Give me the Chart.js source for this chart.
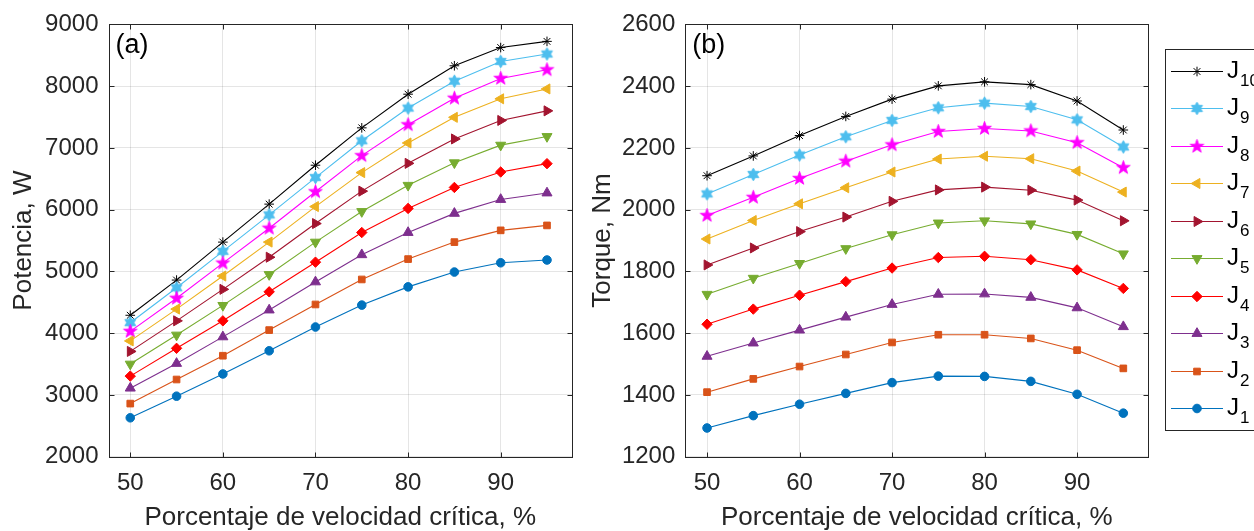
<!DOCTYPE html>
<html>
<head>
<meta charset="utf-8">
<script src="https://cdn.jsdelivr.net/npm/chart.js@4"></script>
<style>
  html, body { margin: 0; padding: 0; background: #fff; overflow: hidden; }
  #wrapA { position: absolute; left: 0; top: 0; width: 580px; height: 531px; }
  #wrapB { position: absolute; left: 580px; top: 0; width: 674px; height: 531px; }
</style>
</head>
<body>
<div id="wrapA"><canvas id="potChart" width="580" height="531"></canvas></div>
<div id="wrapB"><canvas id="torChart" width="674" height="531"></canvas></div>
<script>
/* --- data --- */
const xValues = [50, 55, 60, 65, 70, 75, 80, 85, 90, 95];
const xTicks = [50, 60, 70, 80, 90];
const seriesSubs = ['1','2','3','4','5','6','7','8','9','10'];

// (a) Potencia, W
const potJ1  = [2630, 2980, 3340, 3715, 4100, 4455, 4750, 4990, 5140, 5185];
const potJ2  = [2860, 3250, 3635, 4050, 4465, 4870, 5200, 5475, 5665, 5745];
const potJ3  = [3110, 3510, 3940, 4375, 4830, 5270, 5630, 5940, 6165, 6270];
const potJ4  = [3305, 3755, 4200, 4670, 5150, 5630, 6020, 6360, 6610, 6745];
const potJ5  = [3500, 3970, 4450, 4950, 5475, 5970, 6395, 6760, 7045, 7185];
const potJ6  = [3705, 4200, 4710, 5230, 5775, 6300, 6750, 7145, 7445, 7600];
const potJ7  = [3875, 4390, 4925, 5475, 6050, 6600, 7080, 7495, 7795, 7955];
const potJ8  = [4030, 4565, 5135, 5700, 6290, 6875, 7375, 7805, 8125, 8265];
const potJ9  = [4170, 4735, 5325, 5915, 6520, 7115, 7645, 8080, 8400, 8520];
const potJ10 = [4290, 4860, 5475, 6090, 6720, 7325, 7870, 8330, 8625, 8725];

// (b) Torque, Nm
const torJ1  = [1293, 1333, 1370, 1405, 1440, 1461, 1460, 1444, 1402, 1341];
const torJ2  = [1409, 1452, 1492, 1531, 1570, 1595, 1595, 1583, 1545, 1486];
const torJ3  = [1525, 1568, 1610, 1652, 1693, 1726, 1727, 1716, 1682, 1621];
const torJ4  = [1629, 1678, 1723, 1767, 1811, 1845, 1849, 1838, 1805, 1745];
const torJ5  = [1726, 1778, 1826, 1874, 1919, 1957, 1964, 1954, 1920, 1857];
const torJ6  = [1821, 1876, 1929, 1976, 2027, 2064, 2073, 2063, 2031, 1964];
const torJ7  = [1905, 1965, 2019, 2071, 2122, 2164, 2173, 2165, 2125, 2057];
const torJ8  = [1981, 2040, 2101, 2157, 2210, 2253, 2263, 2255, 2217, 2136];
const torJ9  = [2051, 2114, 2177, 2236, 2289, 2330, 2345, 2334, 2291, 2203];
const torJ10 = [2110, 2174, 2240, 2302, 2358, 2401, 2414, 2405, 2352, 2258];

const potSeries = [potJ1, potJ2, potJ3, potJ4, potJ5, potJ6, potJ7, potJ8, potJ9, potJ10];
const torSeries = [torJ1, torJ2, torJ3, torJ4, torJ5, torJ6, torJ7, torJ8, torJ9, torJ10];

/* --- style --- */
const FONT = '"Liberation Sans", Arial, Helvetica, sans-serif';
const AXIS_COLOR = '#262626';
const GRID_COLOR = 'rgba(38,38,38,0.12)';
const colors = ['#0072BD','#D95319','#7E2F8E','#FF0000','#77AC30','#A2142F','#EDB120','#FF00FF','#4DBEEE','#000000'];

// filled star markers (pentagram / hexagram) as little canvases
function starMarker(points, outer, inner, color) {
  const c = document.createElement('canvas');
  const s = Math.ceil(outer * 2 + 2);
  c.width = s; c.height = s;
  const g = c.getContext('2d');
  g.translate(s / 2, s / 2);
  g.beginPath();
  for (let i = 0; i < points * 2; i++) {
    const r = i % 2 ? inner : outer;
    const a = -Math.PI / 2 + i * Math.PI / points;
    g.lineTo(r * Math.cos(a), r * Math.sin(a));
  }
  g.closePath();
  g.fillStyle = color; g.fill();
  g.strokeStyle = color; g.lineWidth = 0.8; g.stroke();
  return c;
}

const markers = [
  { style: 'circle',   radius: 4.3, rot: 0 },
  { style: 'rect',     radius: 4.7, rot: 0 },
  { style: 'triangle', radius: 5.8, rot: 0 },
  { style: 'rectRot',  radius: 5.2, rot: 0 },
  { style: 'triangle', radius: 5.8, rot: 180 },
  { style: 'triangle', radius: 5.8, rot: 90 },
  { style: 'triangle', radius: 5.8, rot: -90 },
  { style: starMarker(5, 7.2, 2.9, colors[7]), radius: 7, rot: 0 },
  { style: starMarker(6, 6.4, 3.7, colors[8]), radius: 7, rot: 0 },
  { style: 'star',     radius: 4.8, rot: 0 }
];

function makeDatasets(series) {
  return series.map((vals, i) => ({
    label: 'J' + seriesSubs[i],
    data: xValues.map((x, k) => ({ x: x, y: vals[k] })),
    borderColor: colors[i],
    backgroundColor: colors[i],
    borderWidth: 1.1,
    pointStyle: markers[i].style,
    pointRadius: markers[i].radius,
    pointRotation: markers[i].rot,
    pointBackgroundColor: colors[i],
    pointBorderColor: colors[i],
    pointBorderWidth: 1,
    tension: 0,
    fill: false
  }));
}

/* box around the axes + inward tick marks + panel label */
const framePlugin = {
  id: 'frame',
  afterDatasetsDraw(chart, args, opts) {
    const { ctx, chartArea: a, scales } = chart;
    ctx.save();
    ctx.strokeStyle = AXIS_COLOR;
    ctx.lineWidth = 1;
    const L = Math.round(a.left) + 0.5, R = Math.round(a.right) + 0.5;
    const T = Math.round(a.top) + 0.5, B = Math.round(a.bottom) + 0.5;
    ctx.strokeRect(L, T, R - L, B - T);
    ctx.beginPath();
    scales.x.ticks.forEach(t => {
      const px = Math.round(scales.x.getPixelForValue(t.value)) + 0.5;
      ctx.moveTo(px, B); ctx.lineTo(px, B - 5);
      ctx.moveTo(px, T); ctx.lineTo(px, T + 5);
    });
    scales.y.ticks.forEach(t => {
      const py = Math.round(scales.y.getPixelForValue(t.value)) + 0.5;
      ctx.moveTo(L, py); ctx.lineTo(L + 5, py);
      ctx.moveTo(R, py); ctx.lineTo(R - 5, py);
    });
    ctx.stroke();
    if (opts.label) {
      ctx.fillStyle = '#000';
      ctx.font = '27px ' + FONT;
      ctx.textBaseline = 'alphabetic';
      ctx.fillText(opts.label, a.left + 7, a.top + 29);
    }
    ctx.restore();
  }
};

/* legend box with subscripted names, drawn right of panel (b) */
const subLegendPlugin = {
  id: 'subLegend',
  afterDraw(chart, args, opts) {
    if (!opts.show) return;
    const ctx = chart.ctx;
    const bx = 585, by = 49, bw = 120, bh = 381;
    ctx.save();
    ctx.fillStyle = '#fff';
    ctx.fillRect(bx, by, bw, bh);
    ctx.strokeStyle = AXIS_COLOR;
    ctx.lineWidth = 1;
    ctx.strokeRect(bx + 0.5, by + 0.5, bw, bh);
    const dsList = chart.data.datasets;
    for (let k = 0; k < dsList.length; k++) {
      const i = dsList.length - 1 - k;      // J10 at the top
      const ds = dsList[i];
      const y = 70.7 + k * 37.5;
      ctx.strokeStyle = ds.borderColor;
      ctx.lineWidth = 1.1;
      ctx.beginPath();
      ctx.moveTo(591, Math.round(y) + 0.5);
      ctx.lineTo(643, Math.round(y) + 0.5);
      ctx.stroke();
      ctx.fillStyle = ds.pointBackgroundColor;
      ctx.strokeStyle = ds.pointBorderColor;
      ctx.lineWidth = 1;
      Chart.helpers.drawPoint(ctx, {
        pointStyle: ds.pointStyle, radius: ds.pointRadius,
        rotation: ds.pointRotation, borderWidth: 1
      }, 617, Math.round(y) + 0.5);
      ctx.fillStyle = '#000';
      ctx.textBaseline = 'alphabetic';
      ctx.font = '24px ' + FONT;
      ctx.fillText('J', 647, y + 7);
      const jw = ctx.measureText('J').width;
      ctx.font = '17px ' + FONT;
      ctx.fillText(seriesSubs[i], 647 + jw + 1, y + 15);
    }
    ctx.restore();
  }
};

function makeOptions(cfg) {
  return {
    responsive: false,
    devicePixelRatio: 1,
    animation: false,
    layout: { padding: cfg.padding },
    plugins: {
      legend: { display: false },
      tooltip: { enabled: false },
      frame: { label: cfg.label },
      subLegend: { show: cfg.legend }
    },
    scales: {
      x: {
        type: 'linear',
        min: 47.65, max: 97.7,
        afterBuildTicks: s => { s.ticks = xTicks.map(v => ({ value: v })); },
        afterFit: s => { s.height = 74.3; },
        grid: { color: GRID_COLOR, drawTicks: false },
        border: { display: false },
        ticks: { color: AXIS_COLOR, font: { family: FONT, size: 24 }, padding: 12, autoSkip: false, maxRotation: 0,
                 callback: v => String(v) },
        title: { display: true, text: 'Porcentaje de velocidad crítica, %', color: AXIS_COLOR,
                 font: { family: FONT, size: 26 }, padding: { top: 0, bottom: -2 } }
      },
      y: {
        min: cfg.yMin, max: cfg.yMax,
        ticks: { stepSize: cfg.yStep, color: AXIS_COLOR, font: { family: FONT, size: 24 }, padding: 10,
                 callback: v => String(v) },
        afterFit: s => { s.width = cfg.yWidth; },
        grid: { color: GRID_COLOR, drawTicks: false },
        border: { display: false },
        title: { display: true, text: cfg.yTitle, color: AXIS_COLOR,
                 font: { family: FONT, size: 26 }, padding: { top: cfg.yTitlePad, bottom: 0 } }
      }
    }
  };
}

new Chart(document.getElementById('potChart'), {
  type: 'line',
  data: { datasets: makeDatasets(potSeries) },
  options: makeOptions({
    padding: { left: 0, right: 8, top: 21.7, bottom: 0 },
    label: '(a)', legend: false,
    yMin: 2000, yMax: 9000, yStep: 1000, yWidth: 108.5,
    yTitle: 'Potencia, W', yTitlePad: 8
  }),
  plugins: [framePlugin, subLegendPlugin]
});

new Chart(document.getElementById('torChart'), {
  type: 'line',
  data: { datasets: makeDatasets(torSeries) },
  options: makeOptions({
    padding: { left: 0, right: 105.7, top: 21.7, bottom: 0 },
    label: '(b)', legend: true,
    yMin: 1200, yMax: 2600, yStep: 200, yWidth: 105.3,
    yTitle: 'Torque, Nm', yTitlePad: 7
  }),
  plugins: [framePlugin, subLegendPlugin]
});
</script>
</body>
</html>
